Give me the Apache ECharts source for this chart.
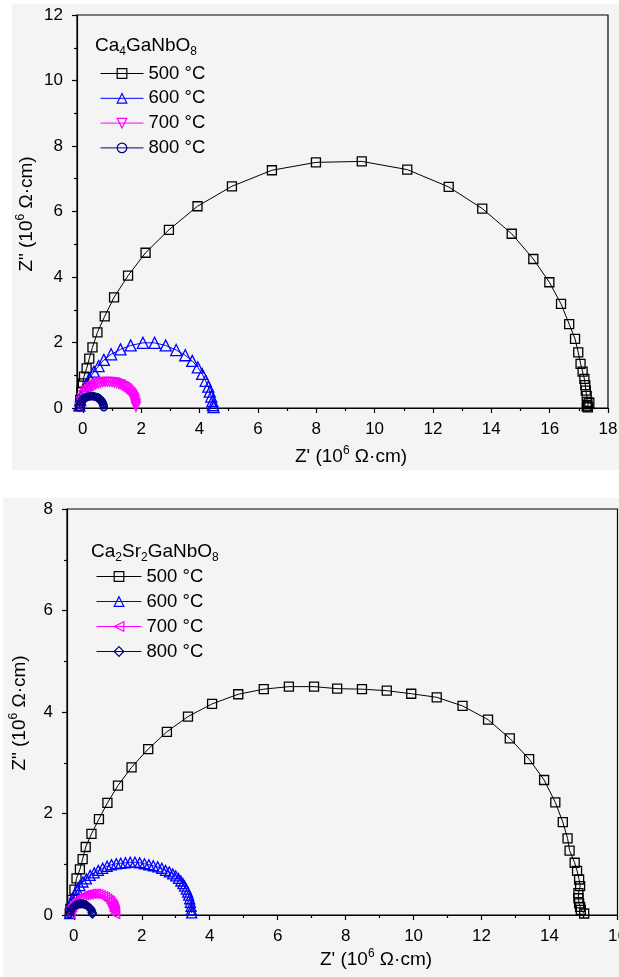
<!DOCTYPE html>
<html><head><meta charset="utf-8">
<script src="https://cdn.jsdelivr.net/npm/echarts@6.0.0/dist/echarts.min.js"></script>
<style>html,body{margin:0;padding:0;background:#fff;}#c{width:619px;height:977px;}</style>
</head><body><div id="c"></div>
<script>
// ---------- Top panel: Ca4GaNbO8 ----------
const topNames = ['500 °C', '600 °C', '700 °C', '800 °C'];
const t500x = [-0.10,-0.09,-0.05,0.00,0.04,0.13,0.22,0.33,0.50,0.75,1.07,1.55,2.15,2.95,3.93,5.11,6.48,7.99,9.56,11.12,12.54,13.69,14.70,15.44,15.99,16.39,16.67,16.87,16.98,17.06,17.13,17.19,17.22,17.24,17.27,17.29,17.36,17.29,17.27,17.31];
const t500y = [0.05,0.25,0.50,0.75,0.96,1.21,1.51,1.85,2.31,2.80,3.38,4.04,4.74,5.44,6.16,6.77,7.26,7.50,7.53,7.28,6.75,6.09,5.32,4.55,3.84,3.18,2.56,2.11,1.70,1.35,1.11,0.89,0.70,0.53,0.37,0.19,0.16,0.07,0.04,0.02];
const t600x = [-0.12,-0.09,0.02,0.12,0.23,0.38,0.54,0.72,0.97,1.29,1.64,2.06,2.46,2.84,3.20,3.51,3.75,3.94,4.09,4.21,4.30,4.35,4.40,4.44,4.46,4.48];
const t600y = [0.08,0.24,0.50,0.70,0.91,1.11,1.28,1.47,1.64,1.79,1.91,1.99,1.99,1.91,1.77,1.61,1.44,1.24,1.04,0.83,0.65,0.50,0.35,0.21,0.09,0.03];
const t700x = [-0.10,-0.07,-0.03,0.02,0.08,0.14,0.21,0.28,0.36,0.44,0.52,0.60,0.68,0.76,0.84,0.92,1.00,1.08,1.16,1.24,1.31,1.38,1.44,1.50,1.55,1.60,1.64,1.68,1.71,1.74,1.76,1.78,1.80,1.81,1.82];
const t700y = [0.03,0.20,0.30,0.39,0.47,0.53,0.59,0.64,0.68,0.72,0.75,0.77,0.79,0.80,0.80,0.80,0.79,0.78,0.76,0.73,0.71,0.67,0.64,0.60,0.56,0.51,0.47,0.42,0.37,0.32,0.28,0.23,0.16,0.11,0.04];
const t800x = [-0.12,-0.10,-0.07,-0.03,0.01,0.05,0.10,0.15,0.20,0.25,0.30,0.35,0.40,0.45,0.50,0.54,0.58,0.62,0.65,0.67,0.69,0.70,0.71,0.72];
const t800y = [0.02,0.11,0.17,0.22,0.26,0.29,0.32,0.34,0.35,0.36,0.36,0.36,0.35,0.34,0.32,0.30,0.27,0.23,0.20,0.17,0.13,0.11,0.08,0.02];
const topXMajor = [0,2,4,6,8,10,12,14,16,18];
const topXMinor = [1,3,5,7,9,11,13,15,17];

// ---------- Bottom panel: Ca2Sr2GaNbO8 ----------
const botNames = ['500 °C ', '600 °C ', '700 °C ', '800 °C '];
const b500x = [-0.12,-0.10,-0.05,0.02,0.08,0.18,0.26,0.35,0.52,0.74,0.99,1.30,1.70,2.19,2.74,3.36,4.07,4.84,5.59,6.33,7.07,7.75,8.48,9.21,9.93,10.68,11.44,12.19,12.83,13.40,13.84,14.17,14.39,14.53,14.59,14.74,14.81,14.87,14.90,14.85,14.85,14.87,14.90,14.92,15.02];
const b500y = [0.03,0.12,0.30,0.50,0.72,0.90,1.10,1.34,1.60,1.89,2.21,2.55,2.91,3.27,3.61,3.91,4.16,4.35,4.45,4.50,4.50,4.46,4.45,4.42,4.36,4.29,4.12,3.85,3.48,3.07,2.66,2.22,1.83,1.51,1.27,1.03,0.87,0.70,0.57,0.43,0.33,0.23,0.16,0.10,0.03];
const b600x = [-0.12,-0.08,-0.03,0.03,0.10,0.18,0.27,0.37,0.48,0.60,0.72,0.85,0.98,1.11,1.25,1.38,1.52,1.66,1.80,1.94,2.08,2.21,2.34,2.47,2.59,2.70,2.81,2.91,3.00,3.08,3.15,3.21,3.26,3.31,3.35,3.38,3.41,3.43,3.45,3.46,3.47];
const b600y = [0.03,0.22,0.32,0.42,0.50,0.58,0.65,0.71,0.78,0.83,0.88,0.92,0.96,0.99,1.01,1.02,1.03,1.04,1.04,1.03,1.01,0.99,0.97,0.95,0.92,0.88,0.85,0.81,0.77,0.72,0.67,0.62,0.57,0.51,0.45,0.39,0.32,0.25,0.17,0.10,0.04];
const b700x = [-0.10,-0.08,-0.05,-0.01,0.04,0.10,0.16,0.23,0.30,0.37,0.44,0.51,0.58,0.65,0.72,0.79,0.86,0.92,0.98,1.03,1.07,1.11,1.14,1.16,1.18,1.20,1.21,1.22];
const b700y = [0.02,0.10,0.16,0.21,0.26,0.30,0.33,0.36,0.39,0.40,0.41,0.42,0.42,0.42,0.41,0.39,0.37,0.35,0.32,0.29,0.27,0.23,0.20,0.17,0.14,0.10,0.07,0.02];
const b800x = [-0.12,-0.10,-0.07,-0.04,0.00,0.04,0.08,0.12,0.16,0.20,0.24,0.28,0.32,0.36,0.40,0.44,0.47,0.50,0.52,0.54,0.55];
const b800y = [0.02,0.07,0.12,0.14,0.17,0.19,0.20,0.21,0.22,0.22,0.22,0.22,0.21,0.20,0.18,0.16,0.14,0.12,0.09,0.05,0.02];
const botXMajor = [0,2,4,6,8,10,12,14,16];
const botXMinor = [1,3,5,7,9,11,13,15];

const FONT = "'Liberation Sans', Arial, sans-serif";
const COLORS = ['#000000', '#0000ff', '#ff00ff', '#000080'];
const zip = (xs, ys) => xs.map((x, i) => [x, ys[i]]);

function xAxes(gi, max, majors, minors) {
  const ls = {color: '#000', width: 1.2};
  return [
    {type: 'value', gridIndex: gi, min: -0.2, max: max, position: 'bottom',
     axisLine: {show: true, onZero: false, lineStyle: ls},
     axisTick: {show: true, customValues: majors, length: 5, lineStyle: ls},
     axisLabel: {show: true, customValues: majors, fontSize: 17, color: '#000', fontFamily: FONT, margin: 13, hideOverlap: false},
     splitLine: {show: false}},
    {type: 'value', gridIndex: gi, min: -0.2, max: max, position: 'bottom',
     axisLine: {show: false, onZero: false},
     axisTick: {show: true, customValues: minors, length: 3, lineStyle: ls},
     axisLabel: {show: false}, splitLine: {show: false}}
  ];
}
function yAxis(gi, max) {
  const ls = {color: '#000', width: 1.2};
  return {type: 'value', gridIndex: gi, min: 0, max: max, interval: 2,
    axisLine: {show: true, onZero: false, lineStyle: ls},
    axisTick: {show: true, length: 5, lineStyle: ls},
    minorTick: {show: true, splitNumber: 2, length: 3, lineStyle: ls},
    axisLabel: {fontSize: 17, color: '#000', fontFamily: FONT, margin: 14},
    splitLine: {show: false}, minorSplitLine: {show: false}};
}
function S(name, xs, ys, gi, symbol, size, color, rot) {
  return {type: 'line', name: name, xAxisIndex: gi * 2, yAxisIndex: gi,
    data: zip(xs, ys), symbol: symbol, symbolSize: size, symbolRotate: rot || 0,
    showSymbol: true, animation: false, silent: true,
    itemStyle: {color: 'rgba(0,0,0,0)', borderColor: color, borderWidth: 1.3},
    lineStyle: {color: color, width: 1}, emphasis: {disabled: true}};
}
function legendData(names) {
  return names.map((n, i) => ({name: n,
    itemStyle: {color: 'rgba(0,0,0,0)', borderColor: COLORS[i], borderWidth: 1.2},
    lineStyle: {color: COLORS[i], width: 1}}));
}
function richTitle(x, y, text, rot) {
  return {type: 'text', x: x, y: y, rotation: rot || 0, silent: true, z: 10,
    style: {text: text, align: 'center', verticalAlign: 'middle', fill: '#000',
      rich: {n: {fontSize: 19, fontFamily: FONT, fill: '#000', lineHeight: 24},
             p: {fontSize: 12, fontFamily: FONT, fill: '#000', verticalAlign: 'top'}}}};
}
function formula(x, y, text) {
  return {type: 'text', x: x, y: y, silent: true, z: 10,
    style: {text: text, align: 'left', verticalAlign: 'middle', fill: '#000',
      rich: {n: {fontSize: 19, fontFamily: FONT, fill: '#000', lineHeight: 24},
             s: {fontSize: 12, fontFamily: FONT, fill: '#000', verticalAlign: 'bottom'}}}};
}

const chart = echarts.init(document.getElementById('c'), null, {renderer: 'canvas'});

chart.setOption({
  backgroundColor: '#ffffff',
  animation: false,
  textStyle: {fontFamily: FONT},
  graphic: [
    {type: 'rect', z: -10, silent: true, shape: {x: 12, y: 4, width: 607, height: 466}, style: {fill: '#f4f4f4'}},
    {type: 'rect', z: -10, silent: true, shape: {x: 3, y: 498, width: 616, height: 479}, style: {fill: '#f4f4f4'}},
    formula(95, 46, '{n|Ca}{s|4}{n|GaNbO}{s|8}'),
    formula(91, 552, '{n|Ca}{s|2}{n|Sr}{s|2}{n|GaNbO}{s|8}'),
    richTitle(351, 457, "{n|Z' (10}{p|6}{n| Ω·cm)}"),
    richTitle(376, 960, "{n|Z' (10}{p|6}{n| Ω·cm)}"),
    richTitle(27, 214, '{n|Z" (10}{p|6}{n| Ω·cm)}', Math.PI / 2),
    richTitle(20, 713, '{n|Z" (10}{p|6}{n| Ω·cm)}', Math.PI / 2)
  ],
  grid: [
    {left: 77, top: 15, width: 531, height: 393, show: true, borderColor: '#000', borderWidth: 1.2,
     backgroundColor: 'rgba(0,0,0,0)', containLabel: false, outerBoundsMode: 'none'},
    {left: 67, top: 509, width: 550.5, height: 406, show: true, borderColor: '#000', borderWidth: 1.2,
     backgroundColor: 'rgba(0,0,0,0)', containLabel: false, outerBoundsMode: 'none'}
  ],
  xAxis: xAxes(0, 18, topXMajor, topXMinor).concat(xAxes(1, 16, botXMajor, botXMinor)),
  yAxis: [yAxis(0, 12), yAxis(1, 8)],
  legend: [
    {left: 95, top: 59, orient: 'vertical', itemWidth: 43, itemHeight: 12, itemGap: 5.8,
     selectedMode: false, data: legendData(topNames),
     formatter: n => n.trim(), textStyle: {fontSize: 18.5, color: '#000', fontFamily: FONT}},
    {left: 91, top: 562, orient: 'vertical', itemWidth: 45, itemHeight: 12, itemGap: 6.0,
     selectedMode: false, data: legendData(botNames),
     formatter: n => n.trim(), textStyle: {fontSize: 18.5, color: '#000', fontFamily: FONT}}
  ],
  series: [
    S(topNames[0], t500x, t500y, 0, 'rect', 9, COLORS[0]),
    S(topNames[1], t600x, t600y, 0, 'triangle', 11, COLORS[1]),
    S(topNames[2], t700x, t700y, 0, 'triangle', 9, COLORS[2], 180),
    S(topNames[3], t800x, t800y, 0, 'circle', 7, COLORS[3]),
    S(botNames[0], b500x, b500y, 1, 'rect', 9, COLORS[0]),
    S(botNames[1], b600x, b600y, 1, 'triangle', 10, COLORS[1]),
    S(botNames[2], b700x, b700y, 1, 'triangle', 9, COLORS[2], 90),
    S(botNames[3], b800x, b800y, 1, 'diamond', 8, COLORS[3])
  ]
});
</script></body></html>
